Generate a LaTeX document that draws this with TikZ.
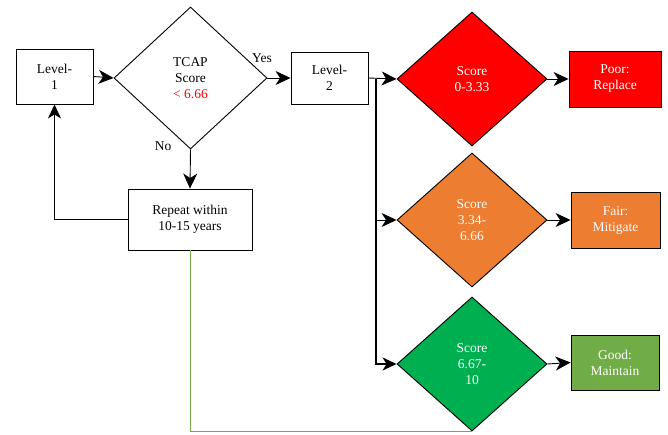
\documentclass[tikz,border=0pt]{standalone}
\usepackage{fontspec}
\setmainfont{Liberation Serif}
\newfontfamily\diagfont{Liberation Serif}
\usetikzlibrary{shapes.geometric,arrows.meta}
\definecolor{cred}{HTML}{FF0000}
\definecolor{corange}{HTML}{ED7D31}
\definecolor{cgreen}{HTML}{00B050}
\definecolor{cgood}{HTML}{70AD47}
\begin{document}
\begin{tikzpicture}[x=1pt,y=-1pt,
  every node/.style={font=\diagfont\fontsize{13.5}{16}\selectfont, align=center},
  box/.style={draw=black, line width=0.9pt, rectangle, inner sep=0pt},
  dia/.style={draw=black, line width=0.9pt, diamond, inner sep=0pt},
  conn/.style={line width=0.9pt, -{Stealth[length=15pt,width=14pt,inset=4.5pt]}},
  thickconn/.style={line width=1.6pt, -{Stealth[length=14pt,width=13pt,inset=4pt]}},
  wt/.style={text=white}]
\useasboundingbox (0,0) rectangle (668,435);
% left part
\node[box, minimum width=77pt, minimum height=55pt] (l1) at (54.5,76.5) {Level-\\1};
\node[dia, minimum width=153pt, minimum height=142pt] (tc) at (190.5,78) {TCAP\\Score\\{\color{cred}< 6.66}};
\node[box, minimum width=77pt, minimum height=52pt] (l2) at (329.5,78) {Level-\\2};
\node[box, minimum width=124pt, minimum height=61pt] (rep) at (190,219.5) {Repeat within\\10-15 years};
\node (yes) at (262,58) {Yes};
\node (no) at (163,146) {No};
% right part
\node[dia, fill=cred, wt, minimum width=150pt, minimum height=134pt] (rd) at (472,79) {Score\\0-3.33};
\node[dia, fill=corange, wt, minimum width=150pt, minimum height=134pt] (od) at (472,220) {Score\\3.34-\\6.66};
\node[dia, fill=cgreen, wt, minimum width=150pt, minimum height=134pt] (gd) at (472,364) {Score\\6.67-\\10};
\node[box, fill=cred, wt, minimum width=92pt, minimum height=56pt] (poor) at (615,79) {Poor:\\Replace};
\node[box, fill=corange, wt, minimum width=89pt, minimum height=56pt] (fair) at (615.5,220) {Fair:\\Mitigate};
\node[box, fill=cgood, wt, minimum width=88pt, minimum height=55pt] (good) at (615,362.5) {Good:\\Maintain};
% connectors
\draw[conn] (l1.east) -- (tc.west);
\draw[conn] (tc.east) -- (l2.west);
\draw[conn] (tc.south) -- (rep.north);
\draw[thickconn] (rep.west) -| (l1.south);
\draw[draw=cgood, line width=0.9pt] (rep.south) |- (gd.south);
\draw[conn] (l2.east) -- (rd.west);
\coordinate (br) at (376,79);
\draw[thickconn] (br) |- (gd.west);
\draw[conn] (br |- od.west) -- (od.west);
\draw[conn] (rd.east) -- (poor.west);
\draw[conn] (od.east) -- (fair.west);
\draw[conn] (gd.east) -- (good.west);
\end{tikzpicture}
\end{document}
